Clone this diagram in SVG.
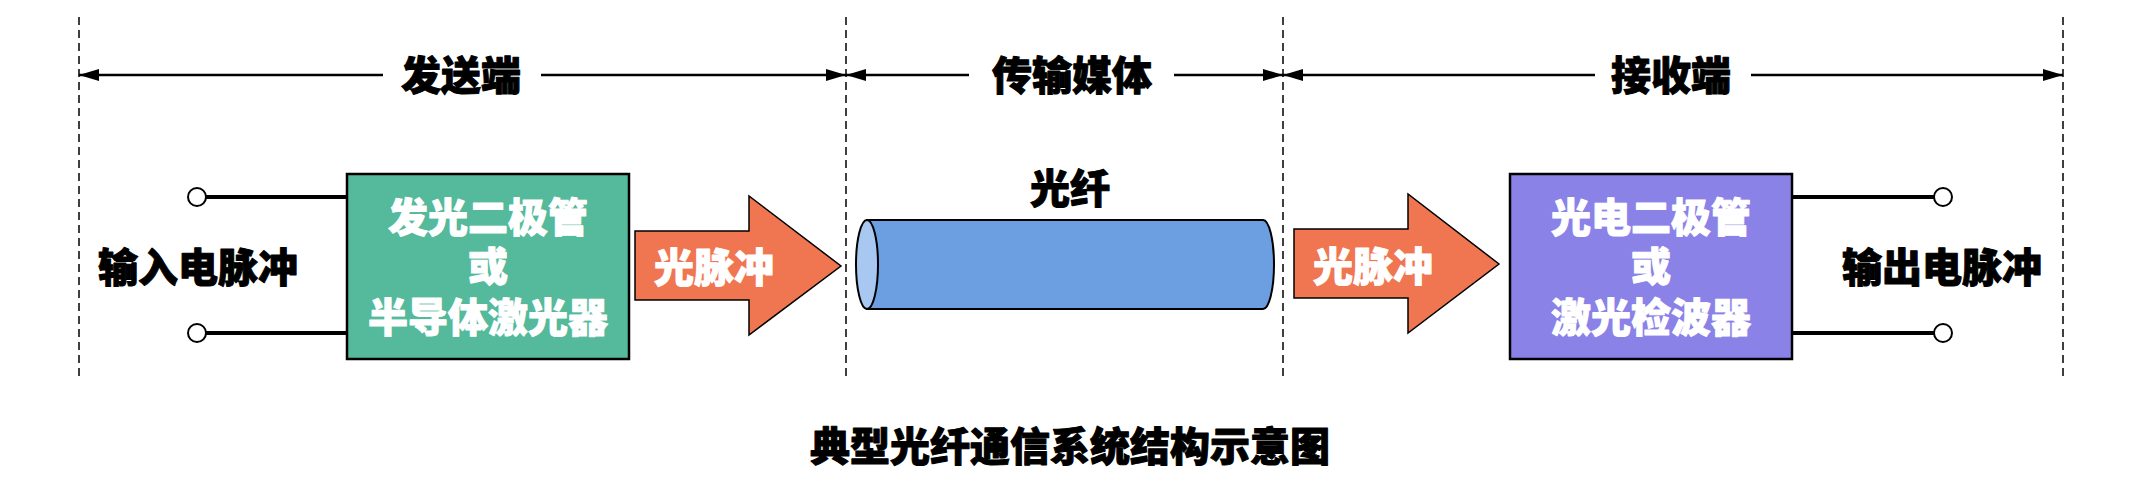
<svg xmlns="http://www.w3.org/2000/svg" width="2148" height="484" viewBox="0 0 2148 484">
<style>
text{font-family:"Noto Sans CJK SC","Noto Sans",sans-serif;font-weight:900;font-size:40px;text-anchor:middle;stroke-width:1;stroke-linejoin:round}
.w{fill:#fff;stroke:#fff}
.k{fill:#000;stroke:#000}
.dash{stroke:#000;stroke-width:1.5;stroke-dasharray:8 5;fill:none}
.half{stroke:#000;stroke-width:2.5;fill:none}
.wire{stroke:#000;stroke-width:4;fill:none}
.term{fill:#fff;stroke:#000;stroke-width:2}
.box{stroke:#000;stroke-width:2.5}
.arrow{fill:#EF7651;stroke:#000;stroke-width:1.5}
</style>
<defs>
<marker id="ah" viewBox="0 0 20 12" refX="20" refY="6" markerWidth="20" markerHeight="12" markerUnits="userSpaceOnUse" orient="auto-start-reverse">
<path d="M0,0 L20,6 L0,12 Z" fill="#000"/>
</marker>
</defs>
<rect width="2148" height="484" fill="#fff"/>
<g id="connectors">
<line class="dash" x1="79" y1="17" x2="79" y2="377"/>
<line class="dash" x1="846" y1="17" x2="846" y2="377"/>
<line class="dash" x1="1283" y1="17" x2="1283" y2="377"/>
<line class="dash" x1="2063" y1="17" x2="2063" y2="377"/>
<path class="half" d="M79,75 L383,75" marker-start="url(#ah)"/>
<path class="half" d="M541,75 L846,75" marker-end="url(#ah)"/>
<path class="half" d="M846,75 L969,75" marker-start="url(#ah)"/>
<path class="half" d="M1174,75 L1283,75" marker-end="url(#ah)"/>
<path class="half" d="M1283,75 L1595,75" marker-start="url(#ah)"/>
<path class="half" d="M1751,75 L2063,75" marker-end="url(#ah)"/>
<line class="wire" x1="206" y1="197" x2="347" y2="197"/>
<line class="wire" x1="206" y1="333" x2="347" y2="333"/>
<line class="wire" x1="1792" y1="197" x2="1934" y2="197"/>
<line class="wire" x1="1792" y1="333" x2="1934" y2="333"/>
</g>
<g id="section-labels">
<text class="k" x="461" y="90">发送端</text>
<text class="k" x="1072" y="90">传输媒体</text>
<text class="k" x="1671" y="90">接收端</text>
</g>
<g id="input">
<circle class="term" cx="197" cy="197" r="9"/>
<circle class="term" cx="197" cy="333" r="9"/>
<text class="k" x="198" y="282">输入电脉冲</text>
</g>
<g id="transmitter">
<rect class="box" x="347" y="174" width="282" height="185" fill="#55B99B"/>
<text class="w" x="488" y="232">发光二极管</text>
<text class="w" x="488" y="281">或</text>
<text class="w" x="488" y="332">半导体激光器</text>
</g>
<g id="pulse1">
<path class="arrow" d="M635,231 L749,231 L749,196 L841,266 L749,335 L749,300 L635,300 Z"/>
<text class="w" x="714" y="282">光脉冲</text>
</g>
<g id="fiber">
<text class="k" x="1070" y="203">光纤</text>
<path d="M867,220 L1263,220 A11,44.5 0 0 1 1263,309 L867,309 Z" fill="#6B9FE2" stroke="#000" stroke-width="2"/>
<ellipse cx="867" cy="264.5" rx="11" ry="44.5" fill="#A9C8F1" stroke="#000" stroke-width="2"/>
</g>
<g id="pulse2">
<path class="arrow" d="M1294,229 L1408,229 L1408,194 L1499,264 L1408,333 L1408,298 L1294,298 Z"/>
<text class="w" x="1373" y="281">光脉冲</text>
</g>
<g id="receiver">
<rect class="box" x="1510" y="174" width="282" height="185" fill="#8B82E8"/>
<text class="w" x="1651" y="232">光电二极管</text>
<text class="w" x="1651" y="281">或</text>
<text class="w" x="1651" y="332">激光检波器</text>
</g>
<g id="output">
<circle class="term" cx="1943" cy="197" r="9"/>
<circle class="term" cx="1943" cy="333" r="9"/>
<text class="k" x="1942" y="282">输出电脉冲</text>
</g>
<g id="title">
<text class="k" x="1070" y="461">典型光纤通信系统结构示意图</text>
</g>
</svg>
